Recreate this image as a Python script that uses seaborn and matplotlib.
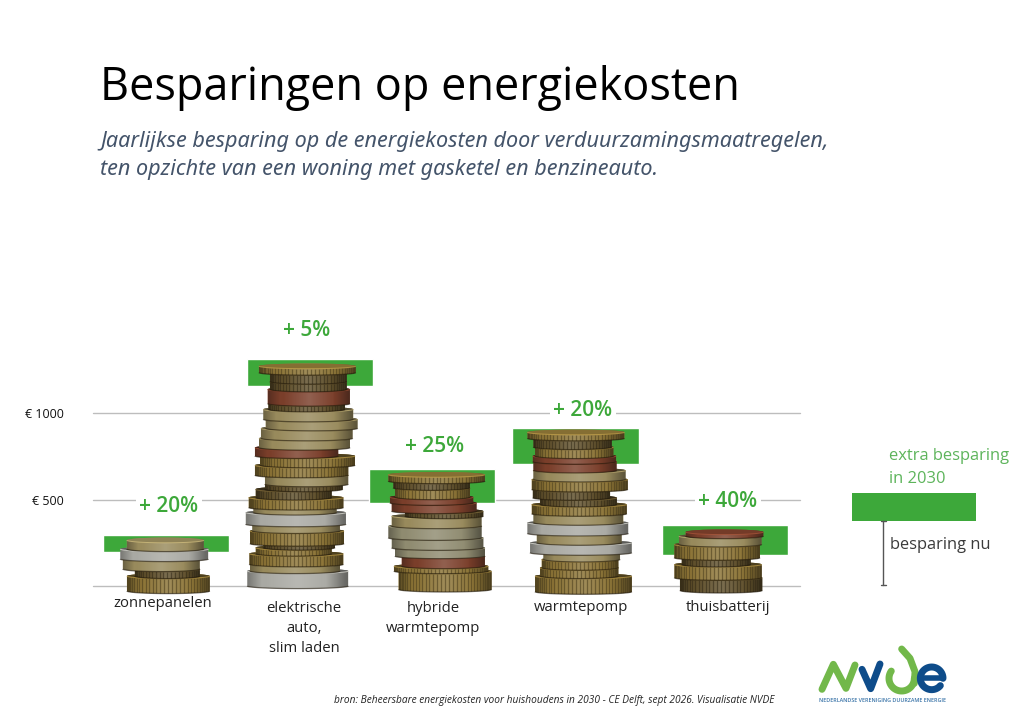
import numpy as np
import pandas as pd
import matplotlib
matplotlib.use("Agg")
import matplotlib.pyplot as plt
from matplotlib.patches import Polygon, Ellipse, Rectangle
import seaborn as sns

# ---- data -------------------------------------------------------------
categories = ["zonnepanelen", "elektrische\nauto,\nslim laden", "hybride\nwarmtepomp", "warmtepomp", "thuisbatterij"]
bar_x = [166, 310, 432, 575.5, 725]
saving_now = [197, 1156, 481, 707, 179]
saving_extra = [98, 159, 197, 208, 178]
pct_labels = ["+ 20%", "+ 5%", "+ 25%", "+ 20%", "+ 40%"]
y_ticks = [0, 500, 1000]
y_tick_labels = ["", "€ 500", "€ 1000"]

title = "Besparingen op energiekosten"
subtitle = ["Jaarlijkse besparing op de energiekosten door verduurzamingsmaatregelen,",
            "ten opzichte van een woning met gasketel en benzineauto."]
source = "bron: Beheersbare energiekosten voor huishoudens in 2030 - CE Delft, sept 2026. Visualisatie NVDE"

# coin stacks, bottom to top: thickness, width, sideways shift, metal
stack_centre = [168.3, 298.3, 438.3, 576.7, 718.3]
stack_drop = [7.3, 2.3, 5.7, 8, 6.7]
zon_t = [15, 7, 10, 10, 14]
zon_w = [82.7, 65, 77, 88, 77]
zon_s = [0, -1, -7, -4, -3]
zon_m = ["gold", "dark", "brass", "silver", "brass"]
ev_t = [15, 6.7, 10.7, 6, 4, 12.7, 6.7, 11.7, 5, 10, 8.3, 5, 9, 10, 9.3, 8.3, 9.3, 10, 9, 10, 5.7, 14.3, 7.7, 9, 11.7]
ev_w = [101, 90, 94, 76, 71.7, 94, 87.7, 100.3, 83.3, 94.7, 76, 77.7, 83.3, 93.3, 95, 83.3, 91, 91.7, 92, 90, 76.7, 82.3, 76.7, 76.7, 96.7]
ev_s = [-.5, -3.3, -2, -4.7, .8, -1.3, -2.2, -2.5, -3.3, -2.3, -4.7, 5.5, 8.3, 3.3, 9.2, -1.7, 6.2, 8.5, 13.3, 10, 8.3, 10.5, 10, 10, 9]
ev_m = ["silver", "brass", "gold", "gold", "dark", "gold", "brass", "silver", "brass", "gold", "dark", "dark", "brass", "gold", "gold",
        "copper", "brass", "brass", "brass", "brass", "dark", "copper", "dark", "dark", "gold"]
hyb_t = [18.3, 5, 10, 8.3, 10, 11.7, 10, 5, 8.3, 5.7, 9.3, 6.7, 11.7]
hyb_w = [93, 94.3, 83.3, 90, 91.7, 93.3, 90, 78.3, 85, 83.3, 75, 76.7, 96.7]
hyb_s = [6.7, 2.8, 5, 1.7, -.8, -3.3, -1.7, 5.8, -4.2, -6.7, -5.8, -6.7, -1.7]
hyb_m = ["gold", "gold", "copper", "silverbrass", "silverbrass", "silverbrass", "brass", "dark", "copper", "copper", "gold", "dark", "gold"]
wp_t = [15.7, 8.3, 8.3, 6.7, 10, 9.3, 10.7, 9, 9.3, 6.7, 8.3, 10, 9, 8.7, 5.7, 9, 8.7, 11.3]
wp_w = [96.7, 78.3, 76.7, 76.7, 101.7, 85, 101, 90, 95, 76.7, 77.3, 96, 92.3, 83.3, 83.3, 78.3, 78.3, 97]
wp_s = [6.7, 2.5, 3.3, 5, 4.2, 2.5, 1.2, 1.7, 2.5, 1.7, -5.3, 3, 2.8, -1.7, -2.3, -2.5, -4.2, -.8]
wp_m = ["gold", "gold", "gold", "brass", "silver", "brass", "silver", "brass", "gold", "dark", "dark", "gold", "brass", "copper", "copper", "gold", "dark", "gold"]
bat_t = [12.7, 13.3, 6.7, 13.3, 8.3, 9.3]
bat_w = [82.3, 87.3, 69, 85.7, 82.7, 77.7]
bat_s = [2.8, -.3, -2.2, -1.2, 2, 6.2]
bat_m = ["dark", "gold", "dark", "gold", "brass", "copper"]
stacks = [(zon_t, zon_w, zon_s, zon_m), (ev_t, ev_w, ev_s, ev_m), (hyb_t, hyb_w, hyb_s, hyb_m),
          (wp_t, wp_w, wp_s, wp_m), (bat_t, bat_w, bat_s, bat_m)]

# ---- styles -------------------------------------------------------------
GREEN = "#3DA83A"
metal_col = {"gold": "#8C7436", "brass": "#988A5C", "silverbrass": "#8F8B70", "silver": "#A9A9A3", "copper": "#7A3E2A", "dark": "#5F4F2B"}
ridged = {"gold", "dark"}
FONT = "Open Sans"
SUB_FONT = "Noto Sans"

sns.set_theme(style="white")
plt.rcParams["font.family"] = [FONT, "DejaVu Sans"]
W, H = 1024, 724
fig = plt.figure(figsize=(W / 100, H / 100), dpi=100, facecolor="white")

# main axes: baseline at px 586.3, € 1000 at px 413.3
PX_PER_EUR = 0.173
top_px = 320
ax = fig.add_axes([93 / W, 1 - 586.3 / H, 707 / W, (586.3 - top_px) / H])
df = pd.DataFrame({"x": bar_x, "extra": saving_extra, "now": saving_now})
sns.barplot(data=df, x="x", y="extra", bottom=df["now"], native_scale=True, color=GREEN, saturation=1,
            width=126.5 / min(np.diff(bar_x)), ax=ax, zorder=3, errorbar=None)
ax.set_xlim(93, 800)
ax.set_ylim(0, (586.3 - top_px) / PX_PER_EUR)
ax.set_xticks([])
ax.set_xlabel("")
ax.set_ylabel("")
ax.set_yticks(y_ticks, y_tick_labels, fontsize=8.9, color="#111111")
ax.tick_params(axis="y", length=0, pad=21)
ax.grid(axis="y", color="#BDBDBD", lw=1)
for g in ax.get_ygridlines():
    g.set_clip_on(False)
ax.set_axisbelow(True)
sns.despine(ax=ax, left=True, bottom=True, top=True, right=True)

# overlay in pixel coordinates: coins, texts, key and logo
ov = fig.add_axes([0, 0, 1, 1], facecolor="none")
ov.set_xlim(0, W)
ov.set_ylim(H, 0)
ov.axis("off")

K = 2.6   # half height of a coin's top face as seen in perspective


def shade(col, f):
    c = np.array(matplotlib.colors.to_rgb(col))
    return tuple(np.clip(c * f, 0, 1))


def draw_coin(cx, top, w, t, metal, is_top):
    col = metal_col[metal]
    th = np.linspace(-np.pi / 2, np.pi / 2, 60)
    xs = cx + w / 2 * np.sin(th)
    front = K * np.cos(th)
    y_top, y_bot = top + K, top + K + t
    # body: upper half ellipse, then lower half ellipse
    outline = np.r_[np.c_[xs, y_top - front], np.c_[xs[::-1], (y_bot + front)[::-1]]]
    body = Polygon(outline, closed=True, fc=col, ec="none", zorder=5)
    ov.add_patch(body)
    # side shading
    u = np.linspace(0, 1, 48)
    dark = np.clip((np.abs(u - .47) - .33) * 2.2, 0, .42)
    light = np.clip(.18 - np.abs(u - .5) * .55, 0, .18)
    rgba = np.zeros((1, 48, 4))
    rgba[..., :3] = np.where(dark[None, :, None] > 0, 0.05, 1.0)
    rgba[..., 3] = dark + light
    im = ov.imshow(rgba, extent=(cx - w / 2, cx + w / 2, y_bot + K, top), aspect="auto", zorder=5, interpolation="bilinear")
    im.set_clip_path(body)
    # rim ridges, closer together toward the sides
    band = np.r_[np.c_[xs, y_top + front], np.c_[xs[::-1], (y_bot + front)[::-1]]]
    if metal in ridged:
        n = int(w / 2.6)
        ang = np.linspace(-1.45, 1.45, n)
        rx = cx + w / 2 * np.sin(ang)
        ry0 = y_top + K * np.cos(ang)
        ry1 = y_bot + K * np.cos(ang)
        lc = ov.vlines(rx, ry0, ry1, color=shade(col, .5), lw=.9, alpha=.55, zorder=5)
        lc.set_clip_path(Polygon(band, closed=True, transform=ov.transData))
    # top face and edge lines
    ov.add_patch(Ellipse((cx, y_top), w, 2 * K, fc=shade(col, .95 if is_top else .55), ec="none", zorder=5))
    ov.plot(xs, y_top + front, color=shade(col, 1.45), lw=.7, alpha=.65, zorder=5, solid_capstyle="butt")
    ov.plot(xs, y_bot + front, color="#1d1508", lw=.9, alpha=.6, zorder=5, solid_capstyle="butt")


for c, drop, (ts, ws, ss, ms) in zip(stack_centre, stack_drop, stacks):
    y = 586.3 + drop - 2 * K
    for i, (t, w, s, m) in enumerate(zip(ts, ws, ss, ms)):
        last = i == len(ts) - 1
        band_t = t - 2 * K if last else t
        y -= band_t
        draw_coin(c + s, y, w, band_t, m, last)

ov.set_xlim(0, W)
ov.set_ylim(H, 0)

# texts
ov.text(100, 88, title, fontsize=32.4, color="#000000", va="center", ha="left")
ov.text(100, 141, subtitle[0], fontsize=15.55, style="italic", family=SUB_FONT, color="#44546A", va="center", ha="left")
ov.text(100, 169, subtitle[1], fontsize=15.55, style="italic", family=SUB_FONT, color="#44546A", va="center", ha="left")

pct_x = [169, 307, 435, 583, 728]
pct_y = [507, 330.5, 446, 411, 501.5]
for x, y, s in zip(pct_x, pct_y, pct_labels):
    ov.text(x, y, s, fontsize=15, fontweight="semibold", color=GREEN, ha="center", va="center", zorder=6,
            bbox=dict(fc="white", ec="none", pad=2.5))

cat_x = [163, 304, 433, 581, 728]
cat_y = [596, 601, 601, 600, 600]
for x, y, s in zip(cat_x, cat_y, categories):
    ov.text(x, y, s, fontsize=10.7, color="#222222", ha="center", va="top", linespacing=1.45, zorder=6)

# key
ov.add_patch(Rectangle((852, 493), 124, 27.5, fc=GREEN, ec="none"))
ov.plot([883, 883], [521, 585], color="#555555", lw=1)
ov.plot([880.5, 885.5], [521, 521], color="#555555", lw=1)
ov.plot([880.5, 885.5], [585, 585], color="#555555", lw=1)
ov.text(889, 456, "extra besparing", fontsize=11.9, color="#5DB45B", va="center")
ov.text(889, 479, "in 2030", fontsize=11.9, color="#5DB45B", va="center")
ov.text(890, 545, "besparing nu", fontsize=11.8, color="#3A3A3A", va="center")

ov.text(334, 700.5, source, fontsize=7.26, style="italic", color="#222222", va="center")

# logo: brush strokes
LG, LB = "#72B84A", "#0E4C8A"
def stroke(x, y, col, lw=5):
    ov.plot(800 + np.asarray(x) / 3, 430 + np.asarray(y) / 3, color=col, lw=lw, solid_capstyle="round", solid_joinstyle="round", zorder=7)
stroke([66, 100, 138, 165], [778, 703, 775, 705], LG)
stroke([186, 212, 240], [718, 776, 702], LB)
a = np.radians(np.linspace(215, 0, 40))
stroke(305 + 38 * np.cos(a), 745 + 38 * np.sin(a), LG)
stroke([305, 330, 345, 343], [657, 685, 725, 760], LG)
a = np.radians(np.linspace(0, -320, 50))
stroke(395 + 34 * np.cos(a), 745 + 34 * np.sin(a), LB)
stroke([361, 429], [745, 745], LB, lw=4)
ov.text(800 + 57 / 3, 430 + 813 / 3, "NEDERLANDSE VERENIGING DUURZAME ENERGIE", fontsize=3.85, color="#3A74A8", fontweight="semibold", va="center")

fig.savefig("out.png", dpi=100)
